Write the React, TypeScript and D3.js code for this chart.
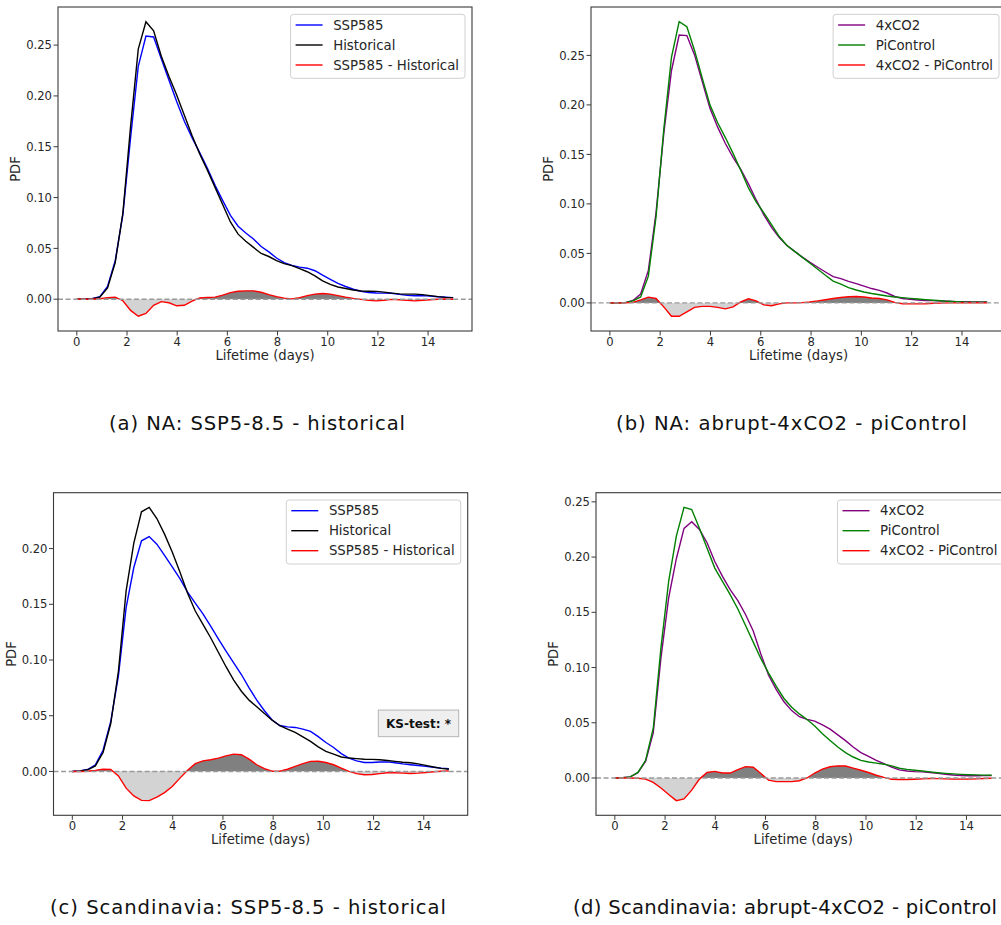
import React from 'react';
import * as d3 from 'd3';

// KDE evaluation grid: 50 evenly spaced lifetimes from 0 to 15 days
const LIFETIME_DAYS = d3.range(50).map((i) => (15 * i) / 49);

// North Atlantic, SSP5-8.5 vs historical
const NA_SSP585 = [
  0, 0, 0.0005, 0.0025, 0.0125, 0.038, 0.0835, 0.159, 0.229, 0.259,
  0.258, 0.2366, 0.2155, 0.1945, 0.175, 0.159, 0.1442, 0.1287, 0.112, 0.097,
  0.0825, 0.0718, 0.0652, 0.0592, 0.0518, 0.0465, 0.0405, 0.036, 0.0333, 0.0315,
  0.0305, 0.028, 0.0236, 0.0195, 0.0155, 0.0125, 0.0098, 0.0078, 0.0066, 0.0061,
  0.006, 0.0058, 0.0047, 0.0038, 0.0034, 0.0035, 0.003, 0.0024, 0.002, 0.0015,
];
const NA_HISTORICAL = [
  0, 0, 0.0005, 0.002, 0.011, 0.036, 0.085, 0.17, 0.246, 0.273,
  0.264, 0.239, 0.219, 0.201, 0.181, 0.161, 0.143, 0.127, 0.11, 0.093,
  0.076, 0.064, 0.057, 0.051, 0.045, 0.042, 0.038, 0.035, 0.033, 0.03,
  0.027, 0.023, 0.018, 0.0145, 0.012, 0.0105, 0.009, 0.008, 0.0078, 0.0077,
  0.007, 0.006, 0.0052, 0.005, 0.005, 0.0045, 0.0035, 0.0025, 0.0018, 0.0015,
];
const NA_SSP_DIFF = [
  0, 0, 0, 0.0005, 0.0015, 0.002, -0.0015, -0.011, -0.0168, -0.014,
  -0.006, -0.0024, -0.0035, -0.0065, -0.006, -0.002, 0.0012, 0.0017, 0.002, 0.004,
  0.0065, 0.0078, 0.0082, 0.0082, 0.0068, 0.0045, 0.0025, 0.001, 0.0003, 0.0015,
  0.0035, 0.005, 0.0056, 0.005, 0.0035, 0.002, 0.0008, -0.0002, -0.0012, -0.0016,
  -0.001, -0.0002, -0.0005, -0.0012, -0.0016, -0.001, -0.0005, -0.0001, 0.0002, 0,
];

// North Atlantic, abrupt-4xCO2 vs piControl
const NA_4XCO2 = [
  0, 0, 0.0003, 0.0025, 0.009, 0.0328, 0.0915, 0.171, 0.2345, 0.2705,
  0.27, 0.2505, 0.2235, 0.1965, 0.1775, 0.161, 0.147, 0.135, 0.1202, 0.104,
  0.089, 0.0762, 0.066, 0.058, 0.052, 0.0463, 0.041, 0.036, 0.0312, 0.0265,
  0.0245, 0.0217, 0.0194, 0.017, 0.0145, 0.0127, 0.01, 0.0065, 0.0045, 0.0036,
  0.003, 0.0025, 0.0023, 0.002, 0.0016, 0.0012, 0.0011, 0.001, 0.0009, 0.0009,
];
const NA_PICONTROL = [
  0, 0, 0.0003, 0.002, 0.006, 0.027, 0.087, 0.175, 0.248, 0.284,
  0.279, 0.255, 0.227, 0.2, 0.182, 0.167, 0.151, 0.134, 0.116, 0.102,
  0.091, 0.079, 0.067, 0.058, 0.052, 0.046, 0.04, 0.034, 0.028, 0.022,
  0.019, 0.0155, 0.013, 0.011, 0.0095, 0.0082, 0.007, 0.006, 0.0053, 0.0046,
  0.004, 0.0033, 0.0027, 0.0022, 0.0016, 0.0012, 0.0009, 0.0008, 0.0007, 0.0007,
];
const NA_CO2_DIFF = [
  0, 0, 0, 0.0005, 0.003, 0.0058, 0.0045, -0.004, -0.0135, -0.0135,
  -0.009, -0.0045, -0.0035, -0.0035, -0.0045, -0.006, -0.004, 0.001, 0.0042, 0.002,
  -0.002, -0.0028, -0.001, 0, 0, 0.0003, 0.001, 0.002, 0.0032, 0.0045,
  0.0055, 0.0062, 0.0064, 0.006, 0.005, 0.0045, 0.003, 0.0005, -0.0008, -0.001,
  -0.001, -0.0008, -0.0004, -0.0002, 0, 0, 0.0002, 0.0002, 0.0002, 0.0002,
];

// Scandinavia, SSP5-8.5 vs historical
const SCAN_SSP585 = [
  0, 0.0005, 0.0017, 0.006, 0.019, 0.0448, 0.086, 0.147, 0.183, 0.207,
  0.2108, 0.204, 0.194, 0.1835, 0.173, 0.161, 0.151, 0.1415, 0.1305, 0.119,
  0.108, 0.0975, 0.087, 0.075, 0.064, 0.0545, 0.0462, 0.0412, 0.04, 0.0395,
  0.038, 0.036, 0.0312, 0.026, 0.0215, 0.016, 0.012, 0.0095, 0.008, 0.008,
  0.0085, 0.0086, 0.0078, 0.0068, 0.006, 0.0053, 0.0045, 0.0037, 0.003, 0.0025,
];
const SCAN_HISTORICAL = [
  0, 0.0005, 0.0015, 0.005, 0.017, 0.043, 0.09, 0.162, 0.205, 0.233,
  0.237, 0.227, 0.213, 0.197, 0.179, 0.16, 0.144, 0.132, 0.12, 0.107,
  0.094, 0.082, 0.072, 0.064, 0.058, 0.052, 0.046, 0.041, 0.038, 0.035,
  0.031, 0.027, 0.022, 0.018, 0.0155, 0.013, 0.012, 0.0115, 0.011, 0.0108,
  0.0105, 0.0098, 0.009, 0.0083, 0.0078, 0.0068, 0.0055, 0.004, 0.0028, 0.002,
];
const SCAN_SSP_DIFF = [
  0, 0, 0.0002, 0.001, 0.002, 0.0018, -0.004, -0.015, -0.022, -0.026,
  -0.0262, -0.023, -0.019, -0.0135, -0.006, 0.001, 0.007, 0.0095, 0.0105, 0.012,
  0.014, 0.0155, 0.015, 0.011, 0.006, 0.0025, 0.0002, 0.0002, 0.002, 0.0045,
  0.007, 0.009, 0.0092, 0.008, 0.006, 0.003, 0, -0.002, -0.003, -0.0028,
  -0.002, -0.0012, -0.0012, -0.0015, -0.0018, -0.0015, -0.001, -0.0003, 0.0002, 0.0005,
];

// Scandinavia, abrupt-4xCO2 vs piControl
const SCAN_4XCO2 = [
  0, 0.0003, 0.001, 0.0047, 0.015, 0.041, 0.109, 0.163, 0.1985, 0.226,
  0.232, 0.225, 0.213, 0.196, 0.1825, 0.1705, 0.1605, 0.148, 0.133, 0.112,
  0.093, 0.08, 0.069, 0.061, 0.0555, 0.053, 0.0515, 0.048, 0.0442, 0.039,
  0.0338, 0.028, 0.023, 0.0195, 0.016, 0.013, 0.0098, 0.0073, 0.0063, 0.0058,
  0.0055, 0.005, 0.0042, 0.0034, 0.0027, 0.0023, 0.002, 0.002, 0.0021, 0.0023,
];
const SCAN_PICONTROL = [
  0, 0.0003, 0.001, 0.005, 0.016, 0.045, 0.118, 0.178, 0.219, 0.245,
  0.243, 0.226, 0.208, 0.19, 0.178, 0.166, 0.153, 0.138, 0.123, 0.108,
  0.095, 0.083, 0.072, 0.064, 0.058, 0.053, 0.047, 0.04, 0.034, 0.028,
  0.023, 0.019, 0.016, 0.0145, 0.0135, 0.0125, 0.011, 0.0088, 0.0078, 0.007,
  0.0063, 0.0055, 0.0048, 0.0042, 0.0037, 0.0033, 0.003, 0.0028, 0.0026, 0.0025,
];
const SCAN_CO2_DIFF = [
  0, 0, 0, -0.0003, -0.001, -0.004, -0.009, -0.015, -0.0205, -0.019,
  -0.011, -0.001, 0.005, 0.006, 0.0045, 0.0045, 0.0075, 0.0103, 0.0097, 0.004,
  -0.002, -0.0033, -0.0033, -0.0033, -0.0025, 0, 0.0045, 0.008, 0.0102, 0.011,
  0.0108, 0.009, 0.007, 0.005, 0.0025, 0.0005, -0.0012, -0.0015, -0.0015, -0.0012,
  -0.0008, -0.0005, -0.0006, -0.0008, -0.001, -0.001, -0.001, -0.0008, -0.0005, -0.0002,
];

const X_TICKS = [0, 2, 4, 6, 8, 10, 12, 14];
const Y_TICKS_TO_025 = [0, 0.05, 0.1, 0.15, 0.2, 0.25];
const Y_TICKS_TO_020 = [0, 0.05, 0.1, 0.15, 0.2];

const SSP_LABELS = ['SSP585', 'Historical', 'SSP585 - Historical'];
const CO2_LABELS = ['4xCO2', 'PiControl', '4xCO2 - PiControl'];

const CAPTION_A = '(a) NA: SSP5-8.5 - historical';
const CAPTION_B = '(b) NA: abrupt-4xCO2 - piControl';
const CAPTION_C = '(c) Scandinavia: SSP5-8.5 - historical';
const CAPTION_D = '(d) Scandinavia: abrupt-4xCO2 - piControl';

const KS_TEXT = 'KS-test: *';

const MPL_FONT = '"DejaVu Sans", sans-serif';
const CAPTION_FONT = '"DejaVu Sans", sans-serif';
const SPINE = '#3a3a3a';

const measureCtx =
  typeof document !== 'undefined' ? document.createElement('canvas').getContext('2d') : null;
function textWidth(s: string, font: string): number {
  if (!measureCtx) return s.length * 7;
  measureCtx.font = font;
  return measureCtx.measureText(s).width;
}

type PanelSpec = {
  id: string;
  left: number;
  top: number;
  width: number;
  height: number;
  first: number[];
  second: number[];
  diff: number[];
  colors: [string, string];
  labels: string[];
  yTicks: number[];
  ks?: boolean;
};

const PANELS: PanelSpec[] = [
  {
    id: 'a', left: 58, top: 7, width: 414, height: 324,
    first: NA_SSP585, second: NA_HISTORICAL, diff: NA_SSP_DIFF,
    colors: ['#0000ff', '#000000'], labels: SSP_LABELS, yTicks: Y_TICKS_TO_025,
  },
  {
    id: 'b', left: 591, top: 7, width: 415, height: 324,
    first: NA_4XCO2, second: NA_PICONTROL, diff: NA_CO2_DIFF,
    colors: ['#800080', '#008000'], labels: CO2_LABELS, yTicks: Y_TICKS_TO_025,
  },
  {
    id: 'c', left: 53.5, top: 492.7, width: 414.2, height: 322.6,
    first: SCAN_SSP585, second: SCAN_HISTORICAL, diff: SCAN_SSP_DIFF,
    colors: ['#0000ff', '#000000'], labels: SSP_LABELS, yTicks: Y_TICKS_TO_020, ks: true,
  },
  {
    id: 'd', left: 596, top: 492.7, width: 414.4, height: 322.6,
    first: SCAN_4XCO2, second: SCAN_PICONTROL, diff: SCAN_CO2_DIFF,
    colors: ['#800080', '#008000'], labels: CO2_LABELS, yTicks: Y_TICKS_TO_025,
  },
];

// Sub-figure captions: anchor, baseline and the width each caption spans
const CAPTIONS = [
  { text: CAPTION_A, x: 109, y: 430, span: 296 },
  { text: CAPTION_B, x: 616, y: 430, span: 351 },
  { text: CAPTION_C, x: 50, y: 914, span: 396 },
  { text: CAPTION_D, x: 573, y: 914, span: 424 },
];

function Panel({ spec }: { spec: PanelSpec }) {
  const { id, left, top, width, height } = spec;
  const right = left + width;
  const bottom = top + height;

  const x = d3.scaleLinear().domain([-0.75, 15.75]).range([left, right]);
  const all = [...spec.first, ...spec.second, ...spec.diff];
  const lo = d3.min(all) as number;
  const hi = d3.max(all) as number;
  const pad = (hi - lo) * 0.05;
  const y = d3.scaleLinear().domain([lo - pad, hi + pad]).range([bottom, top]);

  const line = d3
    .line<number>()
    .x((_, i) => x(LIFETIME_DAYS[i]))
    .y((d) => y(d));
  const area = d3
    .area<number>()
    .x((_, i) => x(LIFETIME_DAYS[i]))
    .y0(y(0))
    .y1((d) => y(d));

  const legendFont = `13.3px ${MPL_FONT}`;
  const maxText = d3.max(spec.labels, (s) => textWidth(s, legendFont)) as number;
  const legendW = 5 + 27 + 10.6 + maxText + 6;
  const legendH = 64;
  const legendX = right - 7 - legendW;
  const legendY = top + 7.3;
  const legendColors = [spec.colors[0], spec.colors[1], '#ff0000'];

  const zeroY = y(0);

  return (
    <g>
      <defs>
        <clipPath id={`above-${id}`}>
          <rect x={left} y={top} width={width} height={zeroY - top} />
        </clipPath>
        <clipPath id={`below-${id}`}>
          <rect x={left} y={zeroY} width={width} height={bottom - zeroY} />
        </clipPath>
      </defs>

      {/* shaded difference: gains in dark grey, losses in light grey */}
      <path d={area(spec.diff) || ''} fill="#808080" clipPath={`url(#above-${id})`} />
      <path d={area(spec.diff) || ''} fill="#d3d3d3" clipPath={`url(#below-${id})`} />

      <path d={line(spec.first) || ''} fill="none" stroke={spec.colors[0]} strokeWidth={1.4} />
      <path d={line(spec.second) || ''} fill="none" stroke={spec.colors[1]} strokeWidth={1.4} />
      <path d={line(spec.diff) || ''} fill="none" stroke="#ff0000" strokeWidth={1.4} />

      <line
        x1={left}
        x2={right}
        y1={zeroY}
        y2={zeroY}
        stroke="#9a9a9a"
        strokeWidth={1.4}
        strokeDasharray="5,2.6"
      />

      {/* spines */}
      <rect x={left} y={top} width={width} height={height} fill="none" stroke={SPINE} strokeWidth={1.1} />

      {/* x axis */}
      {X_TICKS.map((t) => (
        <g key={`x${t}`}>
          <line x1={x(t)} x2={x(t)} y1={bottom} y2={bottom + 4.5} stroke={SPINE} strokeWidth={1} />
          <text
            x={x(t)}
            y={bottom + 14.5}
            textAnchor="middle"
            fontFamily={MPL_FONT}
            fontSize={11.6}
            fill="#262626"
          >
            {t}
          </text>
        </g>
      ))}
      <text
        x={(left + right) / 2}
        y={bottom + 28.5}
        textAnchor="middle"
        fontFamily={MPL_FONT}
        fontSize={13.2}
        fill="#262626"
      >
        Lifetime (days)
      </text>

      {/* y axis */}
      {spec.yTicks.map((t) => (
        <g key={`y${t}`}>
          <line x1={left - 4.5} x2={left} y1={y(t)} y2={y(t)} stroke={SPINE} strokeWidth={1} />
          <text
            x={left - 6}
            y={y(t)}
            dy="0.36em"
            textAnchor="end"
            fontFamily={MPL_FONT}
            fontSize={11.6}
            fill="#262626"
          >
            {d3.format('.2f')(t)}
          </text>
        </g>
      ))}
      <text
        transform={`translate(${left - 38},${(top + bottom) / 2}) rotate(-90)`}
        textAnchor="middle"
        fontFamily={MPL_FONT}
        fontSize={13.2}
        fill="#262626"
      >
        PDF
      </text>

      {/* legend */}
      <rect
        x={legendX}
        y={legendY}
        width={legendW}
        height={legendH}
        rx={3}
        fill="#ffffff"
        fillOpacity={0.8}
        stroke="#d0d0d0"
        strokeWidth={1}
      />
      {spec.labels.map((lab, i) => {
        const cy = legendY + 10.7 + i * 20;
        return (
          <g key={lab}>
            <line
              x1={legendX + 5}
              x2={legendX + 32}
              y1={cy}
              y2={cy}
              stroke={legendColors[i]}
              strokeWidth={1.4}
            />
            <text
              x={legendX + 42.6}
              y={cy}
              dy="0.36em"
              fontFamily={MPL_FONT}
              fontSize={13.3}
              fill="#262626"
            >
              {lab}
            </text>
          </g>
        );
      })}

      {spec.ks && (
        <g>
          <rect
            x={right - 9 - 80.4}
            y={bottom - height * 0.285 - 13.3}
            width={80.4}
            height={26.6}
            fill="#efefef"
            stroke="#b5b5b5"
            strokeWidth={1}
          />
          <text
            x={right - 9 - 40.2}
            y={bottom - height * 0.285}
            dy="0.36em"
            textAnchor="middle"
            fontFamily={MPL_FONT}
            fontWeight="bold"
            fontSize={12}
            fill="#111"
          >
            {KS_TEXT}
          </text>
        </g>
      )}
    </g>
  );
}

export default function App() {
  return (
    <svg
      width={1001}
      height={925}
      viewBox="0 0 1001 925"
      style={{ position: 'absolute', left: 0, top: 0, background: '#ffffff' }}
    >
      <rect x={0} y={0} width={1001} height={925} fill="#ffffff" />
      {PANELS.map((p) => (
        <Panel key={p.id} spec={p} />
      ))}
      <g fontFamily={CAPTION_FONT} fontSize={19.6} fill="#111">
        {CAPTIONS.map((c) => (
          <text key={c.text} x={c.x} y={c.y} textLength={c.span} lengthAdjust="spacing">
            {c.text}
          </text>
        ))}
      </g>
    </svg>
  );
}
